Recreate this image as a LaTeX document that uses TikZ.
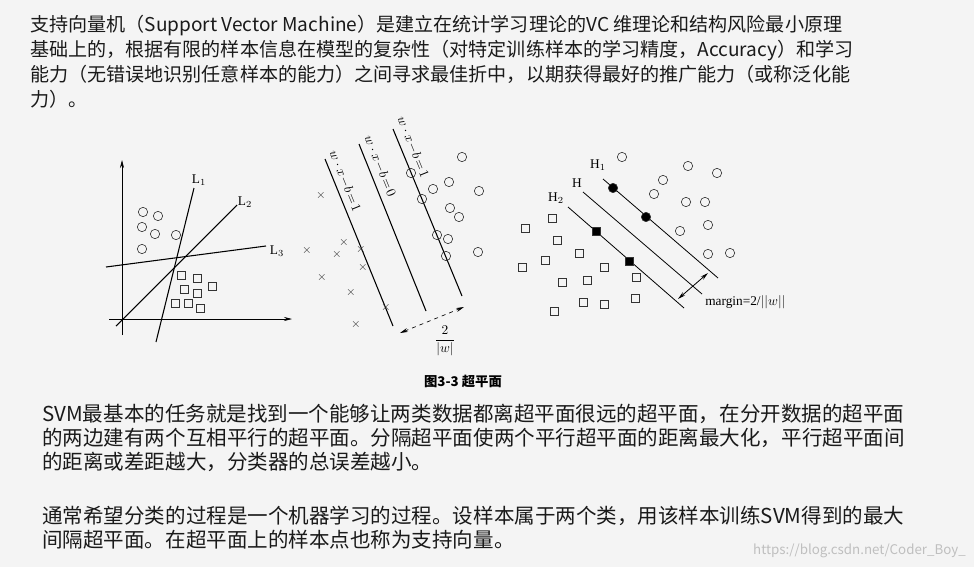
\documentclass[tikz,border=0pt]{standalone}
\usepackage{fontspec}
\newfontfamily\cjk{Noto Sans CJK SC}
\newfontfamily\tms{Liberation Serif}
\usetikzlibrary{arrows.meta}
\definecolor{bg}{HTML}{F4F4F4}
\definecolor{txt}{HTML}{1A1A1A}
\begin{document}
\begin{tikzpicture}[x=0.75pt,y=-0.75pt,
  para/.style={anchor=base west,inner sep=0,font=\cjk\fontsize{14.3}{16}\selectfont,text=txt},
  parb/.style={anchor=base west,inner sep=0,font=\cjk\fontsize{15.4}{16}\selectfont,text=txt},
  ln/.style={line width=0.8pt,black},
  oc/.style={draw=black!80,line width=0.45pt,circle,inner sep=0,minimum size=7pt},
  sq/.style={draw=black!80,line width=0.45pt,rectangle,inner sep=0,minimum size=6pt},
  xx/.style={inner sep=0,font=\tms\fontsize{9}{9}\selectfont,text=black!80},
  lab/.style={inner sep=0,font=\tms\fontsize{10}{10}\selectfont}]
\fill[bg] (0,0) rectangle (974,567);
\useasboundingbox (0,0) rectangle (974,567);
% top paragraph
\node[para] (t1) at (30,32) {支持向量机（Support Vector Machine）是建立在统计学习理论的VC 维理论和结构风险最小原理};
\node[para] (t2) at (30,57) {基础上的，根据有限的样本信息在模型的复杂性（对特定训练样本的学习精度，Accuracy）和学习};
\node[para] (t3) at (30,82) {能力（无错误地识别任意样本的能力）之间寻求最佳折中，以期获得最好的推广能力（或称泛化能};
\node[para] (t4) at (30,107) {力）。};
% diagram 1
\coordinate (ya) at (122,335); \coordinate (yb) at (122,160);
\coordinate (xa) at (109,319); \coordinate (xb) at (292,319);
\draw[line width=0.5pt,-{Stealth[length=6pt,width=3pt]}] (ya) -- (yb);
\draw[line width=0.5pt,-{Stealth[length=6pt,width=3pt]}] (xa) -- (xb);
\coordinate (l1a) at (156,342); \coordinate (l1b) at (194,188);
\coordinate (l2a) at (116,326); \coordinate (l2b) at (237,205);
\coordinate (l3a) at (106,267); \coordinate (l3b) at (266,246);
\draw[ln] (l1a) -- (l1b); \draw[ln] (l2a) -- (l2b); \draw[ln] (l3a) -- (l3b);
\node[lab] (L1) at (199,180) {L$_1$};
\node[lab] (L2) at (245,202) {L$_2$};
\node[lab] (L3) at (277,251) {L$_3$};
\foreach \p [count=\i] in {(143,212),(158,216),(142,227),(155,234),(176,235),(142,249)}
  \node[oc] (ac\i) at \p {};
\foreach \p [count=\i] in {(181,275),(197,278),(184,289),(197,293),(212,286),(175,303),(188,303),(200,308)}
  \node[sq] (as\i) at \p {};
% diagram 2
\coordinate (ma) at (325,159); \coordinate (mb) at (393,326);
\coordinate (na) at (359,144); \coordinate (nb) at (426,311);
\coordinate (pa) at (393,129); \coordinate (pb) at (462,296);
\draw[ln] (ma) -- (mb); \draw[ln] (na) -- (nb); \draw[ln] (pa) -- (pb);
\node[lab,rotate=-67.8] (w1) at (345,181) {$w\cdot x\!-\!b\!=\!1$};
\node[lab,rotate=-67.8] (w0) at (380,166) {$w\cdot x\!-\!b\!=\!0$};
\node[lab,rotate=-67.8] (w2) at (413,147) {$w\cdot x\!-\!b\!=\!1$};
\foreach \p [count=\i] in {(321,195),(307,250),(344,242),(337,254),(361,249),(363,267),(322,277),(351,292),(386,307),(356,324)}
  \node[xx] (bx\i) at \p {$\times$};
\foreach \p [count=\i] in {(462,157),(411,173),(449,182),(433,189),(479,191),(422,199),(450,208),(459,217),(437,235),(448,239),(446,256),(478,252)}
  \node[oc] (bc\i) at \p {};
\coordinate (da) at (400,333); \coordinate (db) at (464,307);
\draw[line width=0.5pt,dashed,{Stealth[length=6pt,width=3pt]}-{Stealth[length=6pt,width=3pt]}] (da) -- (db);
\node[lab] (fr) at (445,341) {$\displaystyle\frac{2}{|w|}$};
% diagram 3
\coordinate (h1a) at (603,179); \coordinate (h1b) at (718,278);
\coordinate (ha) at (583,192); \coordinate (hb) at (702,294);
\coordinate (h2a) at (568,207); \coordinate (h2b) at (684,308);
\draw[line width=0.6pt] (h1a) -- (h1b); \draw[line width=0.6pt] (ha) -- (hb); \draw[line width=0.6pt] (h2a) -- (h2b);
\node[lab] (H1) at (598,165) {H$_1$};
\node[lab] (H) at (577,183) {H};
\node[lab] (H2) at (556,198) {H$_2$};
\node[oc,fill=black] (f1) at (613,188) {};
\node[oc,fill=black] (f2) at (646,217) {};
\node[sq,fill=black] (g1) at (596,231) {};
\node[sq,fill=black] (g2) at (629,261) {};
\foreach \p [count=\i] in {(622,157),(688,166),(717,173),(663,180),(654,194),(686,202),(705,202),(708,225),(680,231),(708,254),(730,253)}
  \node[oc] (cc\i) at \p {};
\foreach \p [count=\i] in {(552,218),(525,228),(557,240),(579,253),(545,260),(522,267),(604,267),(636,277),(562,282),(587,280),(635,298),(583,302),(604,304),(554,311)}
  \node[sq] (cs\i) at \p {};
\coordinate (mga) at (678,299); \coordinate (mgb) at (708,273);
\draw[line width=0.6pt,{Stealth[length=6pt,width=3pt]}-{Stealth[length=6pt,width=3pt]}] (mga) -- (mgb);
\node[lab,anchor=west] (mg) at (705,302) {margin=2/$||w||$};
% caption
\node[inner sep=0,font=\cjk\bfseries\fontsize{10}{10}\selectfont] (cap) at (463,381) {图3-3 超平面};
% bottom paragraph
\node[parb] (b1) at (42,421) {SVM最基本的任务就是找到一个能够让两类数据都离超平面很远的超平面，在分开数据的超平面};
\node[parb] (b2) at (42,445) {的两边建有两个互相平行的超平面。分隔超平面使两个平行超平面的距离最大化，平行超平面间};
\node[parb] (b3) at (42,469) {的距离或差距越大，分类器的总误差越小。};
\node[parb] (b4) at (42,523) {通常希望分类的过程是一个机器学习的过程。设样本属于两个类，用该样本训练SVM得到的最大};
\node[parb] (b5) at (42,547) {间隔超平面。在超平面上的样本点也称为支持向量。};
\node[anchor=base east,inner sep=0,font=\cjk\fontsize{10}{10}\selectfont,text=black!25] (wm) at (966,554) {https://blog.csdn.net/Coder\_Boy\_};
\end{tikzpicture}
\end{document}
